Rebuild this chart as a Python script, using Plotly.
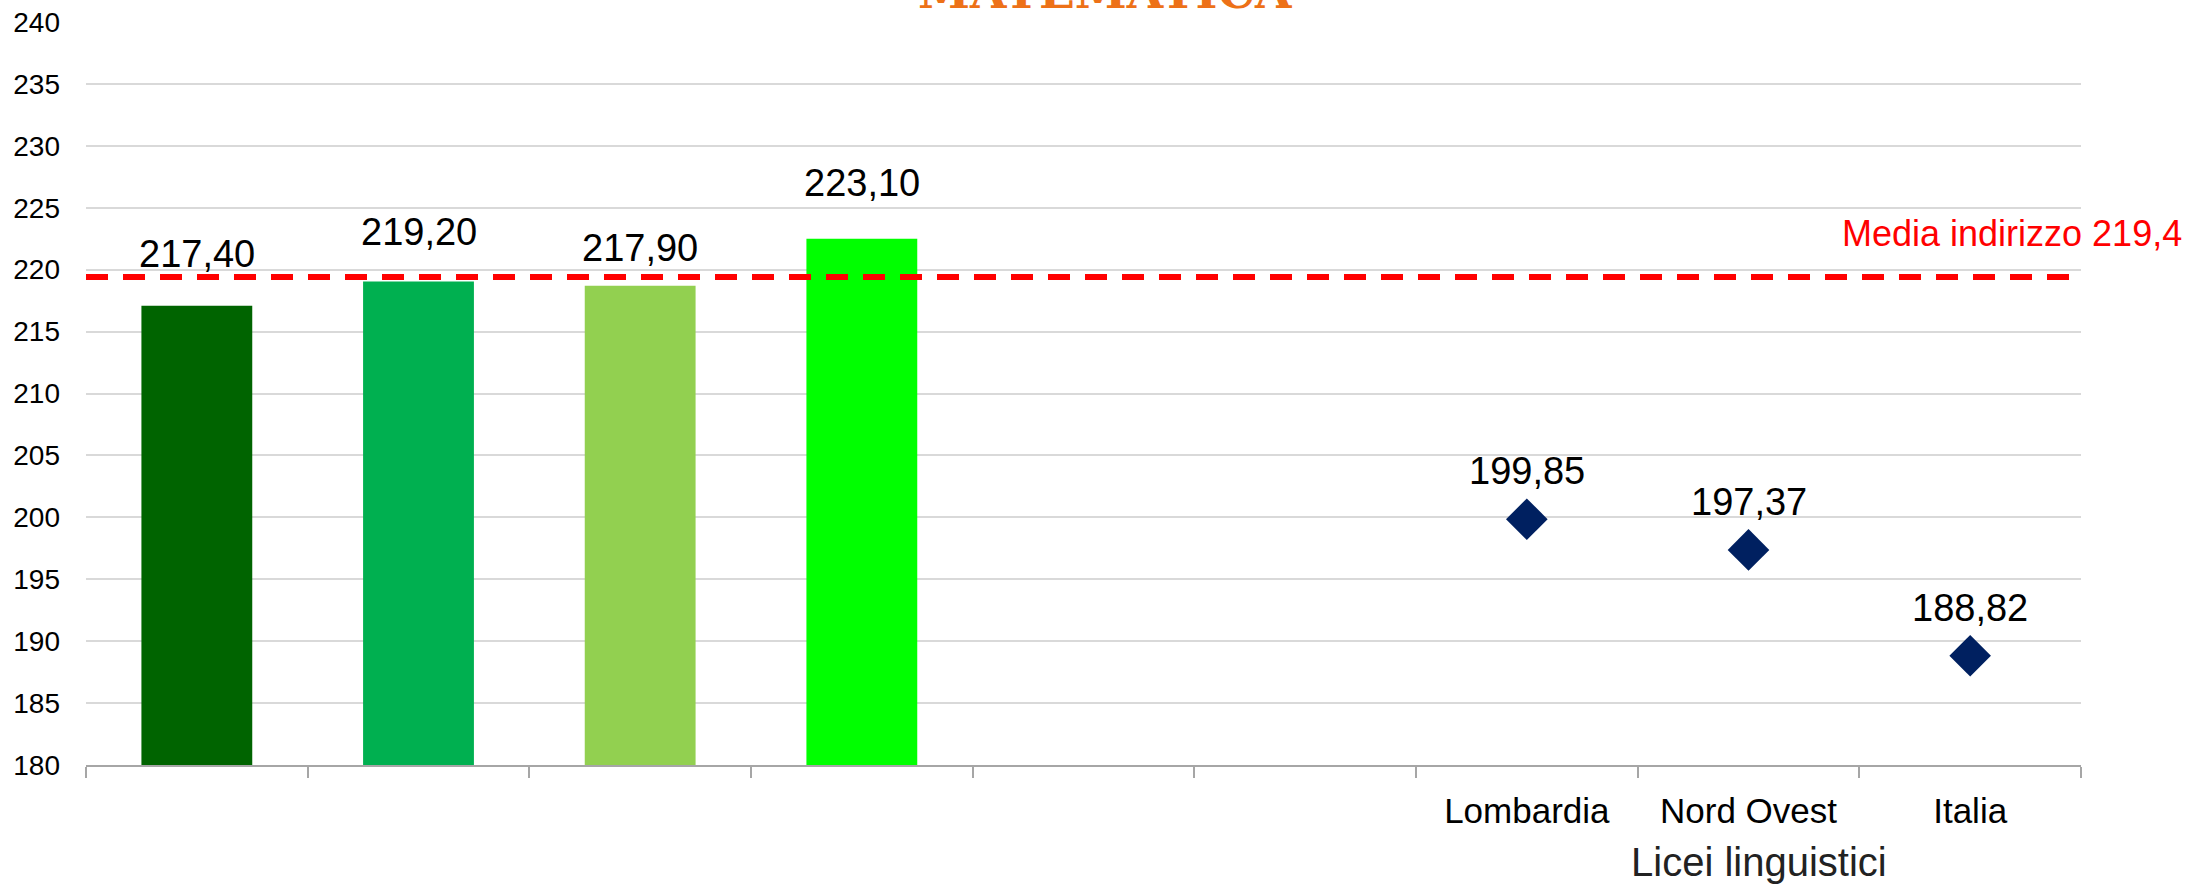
import plotly.graph_objects as go

# ---- data ----
categories = ["", "", "", "", "", "", "Lombardia", "Nord Ovest", "Italia"]
bar_positions = [0, 1, 2, 3]
bar_heights = [217.08, 219.05, 218.70, 222.49]        # drawn bar heights
bar_labels = [217.40, 219.20, 217.90, 223.10]          # data labels shown above bars
bar_colors = ["#006400", "#00B050", "#92D050", "#00FF00"]
point_positions = [6, 7, 8]
point_values = [199.85, 197.37, 188.82]
media_value = 219.4
media_text = "Media indirizzo 219,4"
title_text = "MATEMATICA"
axis_title = "Licei linguistici"

def fmt(v):
    return f"{v:.2f}".replace(".", ",")

FONT = "Liberation Sans, Arial, sans-serif"

fig = go.Figure()
fig.add_trace(go.Bar(
    x=bar_positions, y=bar_heights, width=0.5,
    marker=dict(color=bar_colors, line=dict(width=0)),
    showlegend=False, hoverinfo="skip",
))
fig.add_trace(go.Scatter(
    x=point_positions, y=point_values, mode="markers",
    marker=dict(symbol="diamond", size=32, color="#002060", line=dict(width=0)),
    showlegend=False,
))

annotations = []
for x, v in zip(bar_positions + point_positions, bar_labels + point_values):
    annotations.append(dict(
        x=x, y=v, xref="x", yref="y", text=fmt(v), showarrow=False,
        yanchor="bottom", xanchor="center", yshift=25,
        font=dict(family=FONT, size=38, color="#000000"),
    ))

# red average label
annotations.append(dict(
    x=(2184 - 86) / 1995, y=(765 - 233) / 743, xref="paper", yref="paper",
    text=media_text, showarrow=False, xanchor="right", yanchor="middle",
    font=dict(family=FONT, size=36, color="#FF0000"),
))
# axis title
annotations.append(dict(
    x=(1759 - 86) / 1995, y=(765 - 862) / 743, xref="paper", yref="paper",
    text=axis_title, showarrow=False, xanchor="center", yanchor="middle",
    font=dict(family=FONT, size=40, color="#222222"),
))
# clipped title
annotations.append(dict(
    x=(1105 - 86) / 1995, y=(765 - 21) / 743, xref="paper", yref="paper",
    text=f"<b>{title_text}</b>", showarrow=False, xanchor="center", yanchor="bottom",
    font=dict(family="DejaVu Serif, serif", size=47, color="#ED7117"),
))

fig.add_shape(type="line", xref="paper", x0=0, x1=1, yref="y", y0=media_value, y1=media_value,
              line=dict(color="#FF0000", width=6, dash="22px,15px"), layer="above")

fig.update_layout(
    width=2187, height=885,
    margin=dict(l=86, r=106, t=22, b=120),
    paper_bgcolor="white", plot_bgcolor="white",
    annotations=annotations,
    bargap=0.5,
    xaxis=dict(
        range=[-0.5, 8.5], tickmode="array", tickvals=list(range(len(categories))),
        ticktext=categories, ticks="", showgrid=False, zeroline=False,
        showline=True, linecolor="#A6A6A6", linewidth=2, automargin=False,
        tickfont=dict(family=FONT, size=35, color="#000000"),
        ticklabelstandoff=14,
        minor=dict(ticks="outside", tick0=-0.5, dtick=1, ticklen=11, tickwidth=2,
                   tickcolor="#A6A6A6", showgrid=False),
    ),
    yaxis=dict(
        range=[180, 240], dtick=5, tick0=180, showgrid=True, gridcolor="#D9D9D9", gridwidth=2,
        zeroline=False, ticks="", showline=False, automargin=False,
        tickfont=dict(family=FONT, size=28, color="#000000"),
        ticklabelstandoff=25,
    ),
)

fig.write_html("out.html", config={"displayModeBar": False},
               post_script="document.body.style.margin='0';document.body.style.overflow='hidden';")
